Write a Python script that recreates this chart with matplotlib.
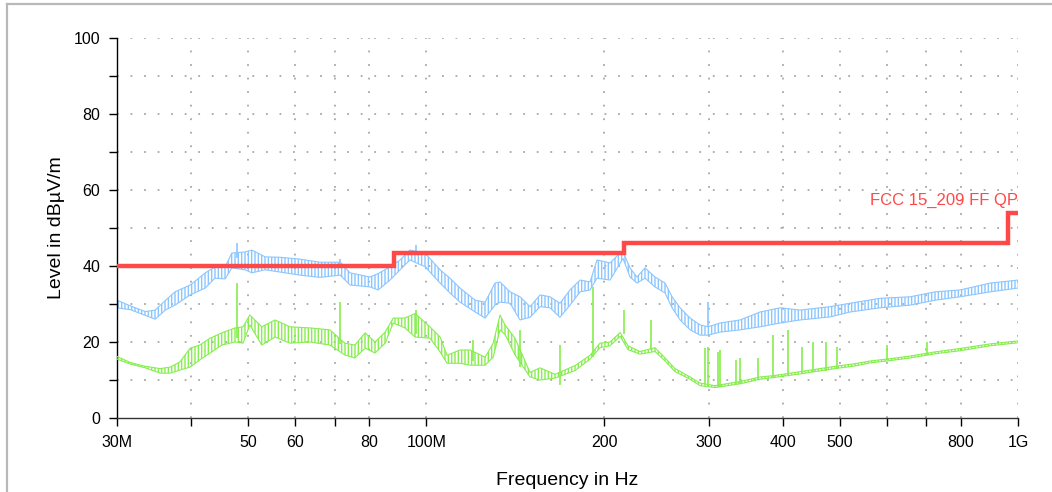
import numpy as np
import matplotlib
matplotlib.use("Agg")
import matplotlib.pyplot as plt
from matplotlib.ticker import FixedLocator, NullLocator, NullFormatter

plt.rcParams['font.family'] = ['Liberation Sans', 'DejaVu Sans']
plt.rcParams['hatch.linewidth'] = 1.0

# ---------------- data (frequency in MHz, level in dBuV/m) ----------------
limit_freq = [30, 88, 88, 216, 216, 960, 960, 1000]
limit_level = [40, 40, 43.5, 43.5, 46, 46, 54, 54]
limit_label = "FCC 15_209 FF QP"

blue_freq = [30, 31.6, 33.5, 34.8, 36.2, 37.6, 39.9, 42.3, 43.9, 45.7, 46.9, 49.4,
             50.7, 53.4, 56.6, 61.2, 66.1, 71.5, 74.3, 80.3, 82.9, 86.8, 90.3, 93.8,
             99.5, 105.5, 109.6, 114.0, 120.9, 125.7, 130.6, 133.2, 138.5, 144.0,
             149.7, 155.7, 161.8, 168.2, 174.9, 181.9, 189.1, 194.3, 204.4, 210.8,
             215, 220.9, 227, 234.2, 243.5, 253.2, 260.2, 268.5, 279.1, 290.2, 299.3,
             313.6, 339, 366.6, 396.3, 428.2, 481.3, 520.2, 584.8, 657.1, 724.3,
             798.3, 897.3, 1000]
blue_lo = [29.0, 28.5, 27.0, 26.0, 28.4, 29.7, 32.4, 34.2, 36.8, 36.6, 39.5, 39.0,
           38.2, 39.0, 38.4, 37.6, 37.0, 37.6, 35.0, 34.5, 33.7, 36.3, 39.0, 41.6,
           39.8, 35.5, 32.9, 30.5, 27.9, 26.3, 29.7, 30.5, 30.2, 25.8,
           26.5, 29.3, 29.0, 26.5, 29.7, 33.2, 33.7, 36.8, 36.3, 39.8,
           42.0, 37.1, 35.5, 36.8, 34.5, 32.9, 29.0, 25.8, 23.2, 21.8, 21.8,
           22.6, 23.2, 24.0, 25.0, 25.8, 26.6, 27.9, 29.0, 29.7, 31.0,
           31.9, 33.2, 34.2]
blue_hi = [31.0, 29.5, 28.0, 28.4, 30.9, 33.2, 35.0, 38.2, 39.7, 39.8, 43.4, 43.7,
           44.2, 42.4, 42.3, 41.8, 41.0, 41.0, 38.2, 37.1, 38.0, 39.8, 41.6, 44.2,
           43.4, 39.0, 36.8, 34.2, 31.0, 30.5, 35.5, 35.8, 33.2, 31.9,
           29.3, 32.4, 31.9, 30.2, 33.7, 36.3, 35.8, 41.6, 40.8, 42.9,
           43.7, 39.5, 37.1, 39.5, 37.1, 35.5, 31.9, 29.0, 26.3, 24.5, 24.0,
           25.0, 25.8, 27.9, 29.0, 28.4, 29.3, 30.2, 31.5, 31.9, 33.2,
           33.7, 35.5, 36.3]
blue_spike_freq = [47.8, 71.5, 96.1, 299.3]
blue_spike_base = [42.0, 40.0, 43.0, 24.0]
blue_spike_top = [46.0, 41.8, 45.5, 30.5]

green_freq = [30, 31.6, 33.5, 35.5, 36.9, 38.3, 39.9, 41.4, 43.1, 45.1, 47.5, 49.0,
              50.3, 52.7, 55.5, 58.8, 63.6, 68.7, 72.8, 75.7, 78.8, 81.9, 85.2, 87.9,
              92.0, 95.7, 101.4, 105.5, 108.4, 114.0, 118.6, 125.7, 129.7, 133.2,
              135.8, 141.2, 149.7, 155.7, 165.0, 178.4, 189.1, 196.6, 204.4, 212.6,
              219.2, 229.7, 243.5, 253.2, 263.2, 279.1, 290.2, 307.5, 339, 366.6,
              388.6, 428.2, 490.8, 530.4, 562.2, 607.8, 657.1, 724.3, 798.3, 897.3,
              1000]
green_lo = [15.5, 14.2, 13.2, 11.8, 11.8, 12.6, 13.4, 15.3, 17.1, 19.2, 20.0, 19.7,
            24.5, 19.2, 21.3, 19.7, 20.0, 19.2, 16.6, 15.8, 18.4, 17.1, 19.7, 25.0,
            23.7, 21.3, 21.0, 17.4, 14.4, 14.4, 13.9, 13.9, 16.0, 23.2,
            22.0, 16.6, 10.8, 10.0, 10.5, 12.5, 15.5, 18.5, 19.0, 21.5,
            18.0, 16.8, 17.5, 15.0, 12.2, 10.2, 8.5, 8.0, 9.0, 10.2,
            10.7, 11.6, 13.0, 13.7, 14.5, 15.1, 15.8, 16.9, 17.7, 19.0,
            19.8]
green_hi = [16.2, 14.6, 13.6, 13.0, 13.4, 14.7, 18.4, 19.2, 21.0, 22.4, 23.7, 24.0,
            27.1, 24.0, 25.8, 24.0, 23.7, 23.2, 19.7, 19.2, 22.4, 20.0, 22.6, 26.3,
            26.3, 27.5, 24.0, 21.3, 16.5, 17.9, 17.9, 16.0, 19.7, 27.1,
            24.5, 21.0, 12.0, 13.2, 11.5, 13.8, 16.5, 19.7, 20.0, 22.5,
            19.0, 17.5, 18.5, 15.8, 13.0, 10.8, 9.2, 8.5, 9.6, 10.8,
            11.2, 12.2, 13.6, 14.3, 15.0, 15.6, 16.3, 17.4, 18.3, 19.5,
            20.3]
green_spike_freq = [47.8, 71.5, 96.1, 119.9, 144.0, 168.2, 191.3, 215.5, 239.7, 295.8,
                    299.3, 311.2, 313.6, 333.7, 339, 363.7, 385.5, 408.7, 431.5, 450.4,
                    473.8, 494.5, 600.9, 701.8]
green_spike_base = [21.0, 19.5, 22.0, 15.0, 13.4, 8.7, 16.0, 22.0, 18.0, 9.0,
                    8.5, 8.2, 8.2, 9.0, 9.0, 10.0, 10.7, 11.0, 11.6, 12.0,
                    12.5, 13.0, 15.3, 16.5]
green_spike_top = [35.5, 30.5, 28.5, 20.5, 23.2, 19.2, 34.5, 28.4, 25.8, 18.4,
                   18.7, 17.4, 17.9, 15.3, 15.8, 15.8, 21.8, 23.2, 18.7, 20.0,
                   20.0, 18.7, 19.3, 19.9]

xtick_vals = [30, 40, 50, 60, 70, 80, 100, 200, 300, 400, 500, 600, 700, 800, 1000]
xtick_labels = ["30M", "", "50", "60", "", "80", "100M", "200", "300", "400", "500",
                "", "", "800", "1G"]
ytick_vals = [0, 10, 20, 30, 40, 50, 60, 70, 80, 90, 100]
ytick_labels = ["0", "", "20", "", "40", "", "60", "", "80", "", "100"]

BLUE = "#8cc6ff"
GREEN = "#86ee4e"
RED = "#ff4848"

# ---------------- figure ----------------
fig = plt.figure(figsize=(10.52, 4.92), dpi=100)
ax = fig.add_axes([117 / 1052, 74 / 492, 901 / 1052, 380 / 492])

# frame of the figure
fig.add_artist(plt.Line2D([7 / 1052, 7 / 1052], [0, 1 - 4 / 492], transform=fig.transFigure,
                          color="#b8b8b8", lw=1.6))
fig.add_artist(plt.Line2D([7 / 1052, 1], [1 - 4 / 492, 1 - 4 / 492], transform=fig.transFigure,
                          color="#b8b8b8", lw=1.6))

ax.set_xscale("log")
ax.set_xlim(30, 1000)
ax.set_ylim(0, 100)

# grid
for v in ytick_vals[1:]:
    ax.axhline(v, color="#a8a8a8", lw=1.3, ls=(0, (1, 6.5)), zorder=0)
for v in xtick_vals[1:]:
    ax.axvline(v, color="#a8a8a8", lw=1.3, ls=(0, (1, 6.5)), zorder=0)

# blue trace
ax.fill_between(blue_freq, blue_lo, blue_hi, facecolor="none", edgecolor=BLUE,
                hatch="|||||", linewidth=0, zorder=2)
ax.plot(blue_freq, blue_hi, color=BLUE, lw=0.8, zorder=2)
ax.plot(blue_freq, blue_lo, color=BLUE, lw=0.8, zorder=2)
ax.vlines(blue_spike_freq, blue_spike_base, blue_spike_top, color=BLUE, lw=1.2, zorder=2)

# green trace
ax.fill_between(green_freq, green_lo, green_hi, facecolor="none", edgecolor=GREEN,
                hatch="|||||", linewidth=0, zorder=3)
ax.plot(green_freq, green_hi, color=GREEN, lw=0.8, zorder=3)
ax.plot(green_freq, green_lo, color=GREEN, lw=0.8, zorder=3)
ax.vlines(green_spike_freq, green_spike_base, green_spike_top, color=GREEN, lw=1.2, zorder=3)

# limit line
ax.plot(limit_freq, limit_level, color=RED, lw=3.2, solid_joinstyle="miter", zorder=4)
ax.text(1000, 55.3, limit_label, color=RED, fontsize=12, ha="right", va="bottom",
        zorder=5)

# axes styling
for s in ("top", "right"):
    ax.spines[s].set_visible(False)
ax.spines["left"].set_linewidth(1.0)
ax.spines["bottom"].set_linewidth(1.0)
ax.spines["bottom"].set_color("#333333")

ax.xaxis.set_major_locator(FixedLocator(xtick_vals))
ax.set_xticklabels(xtick_labels)
ax.xaxis.set_minor_locator(NullLocator())
ax.xaxis.set_minor_formatter(NullFormatter())
ax.set_yticks(ytick_vals)
ax.set_yticklabels(ytick_labels)
ax.tick_params(axis="both", direction="out", length=6, width=1.0, labelsize=11.5,
               pad=6, colors="black")

ax.set_xlabel("Frequency in Hz", fontsize=14, labelpad=16)
ax.set_ylabel("Level in dBµV/m", fontsize=14, labelpad=6)

fig.savefig("out.png", dpi=100)
